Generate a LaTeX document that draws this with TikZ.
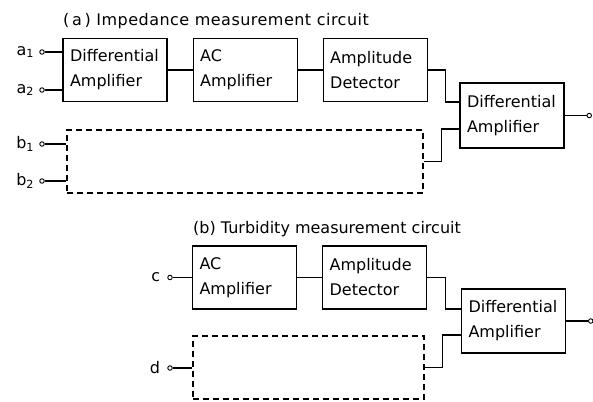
\documentclass[tikz,border=0pt]{standalone}
\usepackage{fontspec}
\setmainfont{DejaVu Sans}
\usetikzlibrary{positioning,calc}
\begin{document}
\begin{tikzpicture}[x=1pt,y=1pt,
box/.style={draw,line width=1.1pt,align=left,text width=90pt,
minimum height=63pt,inner sep=7pt,font=\fontsize{16}{25}\selectfont},
dbox/.style={draw,line width=1.1pt,dash pattern=on 6pt off 4pt,minimum height=63pt,inner sep=0pt},
term/.style={circle,draw,line width=0.9pt,fill=white,inner sep=0pt,minimum size=4.5pt},
lbl/.style={font=\fontsize{16}{18}\selectfont,inner sep=0pt},
wire/.style={line width=1.1pt},node distance=25pt]
\useasboundingbox (0,0) rectangle (593,-401);
% (a) impedance
\node[lbl,anchor=base west] (ttla) at (63,-26) {\addfontfeature{LetterSpace=3}(\,a\,)\ Impedance measurement circuit};
\node[box] (dif1) at (115,-70) {Differential\\Amplifier};
\node[box,right=of dif1] (ac1) {AC\\Amplifier};
\node[box,right=of ac1] (det1) {Amplitude\\Detector};
\node[box,minimum height=65pt] (dif2) at (512,-115.5) {Differential\\Amplifier};
\node[dbox,minimum width=356pt] (dash1) at (245,-161.5) {};
\node[term] (a1) at (42,-52) {};
\node[term] (a2) at (42,-90) {};
\node[term] (b1) at (42,-144) {};
\node[term] (b2) at (42,-181) {};
\node[term,right=22pt of dif2] (out1) {};
\node[lbl,left=5pt of a1] (la1) {a\textsubscript{1}};
\node[lbl,left=5pt of a2] (la2) {a\textsubscript{2}};
\node[lbl,left=5pt of b1] (lb1) {b\textsubscript{1}};
\node[lbl,left=5pt of b2] (lb2) {b\textsubscript{2}};
\draw[wire] (a1) -- (a1 -| dif1.west);
\draw[wire] (a2) -- (a2 -| dif1.west);
\draw[wire] (b1) -- (b1 -| dash1.west);
\draw[wire] (b2) -- (b2 -| dash1.west);
\draw[wire] (dif1) -- (ac1);
\draw[wire] (ac1) -- (det1);
\draw[wire] (det1.east) -- ++(18,0) |- ($(dif2.west)+(0,13.5)$);
\draw[wire] (dash1.east) -- ++(18,0) |- ($(dif2.west)+(0,-13.5)$);
\draw[wire] (dif2) -- (out1);
% (b) turbidity
\node[lbl,anchor=base west] (ttlb) at (193,-233) {(b)\ Turbidity measurement circuit};
\node[box] (ac2) at (244.5,-277.5) {AC\\Amplifier};
\node[box,right=of ac2] (det2) {Amplitude\\Detector};
\node[box,minimum height=64pt] (dif3) at (513.5,-321) {Differential\\Amplifier};
\node[dbox,minimum width=231pt] (dash2) at (308.5,-367.5) {};
\node[term] (c) at (170,-277.5) {};
\node[term] (d) at (170,-368) {};
\node[term,right=22pt of dif3] (out2) {};
\node[lbl,left=7pt of c] (lc) {c};
\node[lbl,left=7pt of d] (ld) {d};
\draw[wire] (c) -- (ac2);
\draw[wire] (d) -- (d -| dash2.west);
\draw[wire] (ac2) -- (det2);
\draw[wire] (det2.east) -- ++(18,0) |- ($(dif3.west)+(0,12)$);
\draw[wire] (dash2.east) -- ++(18,0) |- ($(dif3.west)+(0,-14)$);
\draw[wire] (dif3) -- (out2);
\end{tikzpicture}
\end{document}
